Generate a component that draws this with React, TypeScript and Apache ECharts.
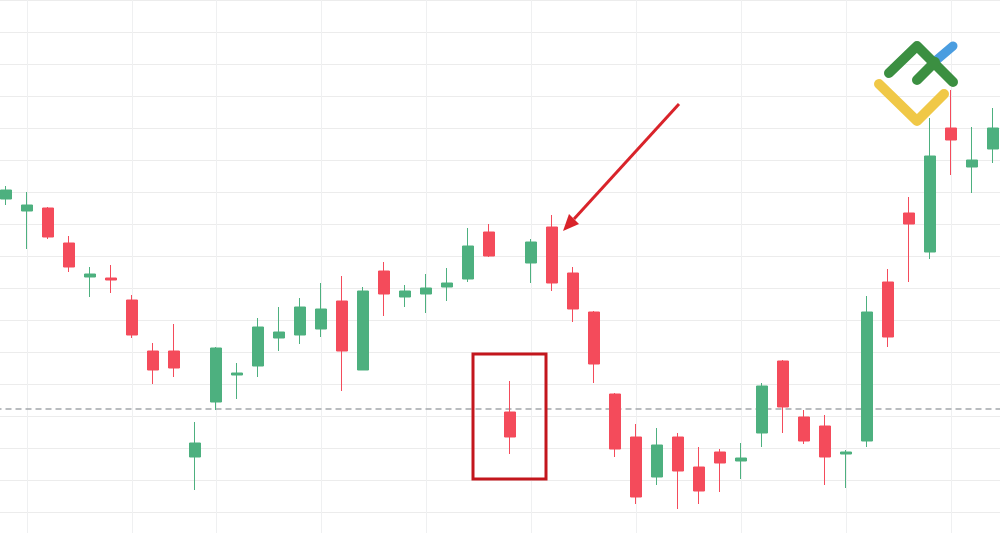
import React, { useEffect, useRef } from "react";
import * as echarts from "echarts";

// Candle values (price units, one grid step = 32)
const opens = [345, 333, 336, 301, 267, 266, 244, 193, 193, 87, 142, 169, 178, 206, 209, 215, 243, 174, 273, 247, 250, 257, 265, 312, 132, 281, 317, 271, 232, 150, 107, 67, 107, 77, 92, 83, 111, 183, 127, 118, 90, 103, 262, 331, 292, 416, 377, 395];
const closes = [354, 339, 307, 277, 270, 264, 209, 174, 176, 101, 196, 171, 217, 212, 237, 235, 193, 253, 250, 253, 256, 261, 298, 288, 107, 302, 261, 235, 180, 95, 47, 99, 73, 53, 81, 86, 158, 137, 103, 87, 92, 232, 207, 320, 388, 404, 384, 416];
const lows = [339, 295, 305, 272, 247, 251, 206, 160, 167, 54, 134, 145, 167, 193, 200, 207, 153, 174, 228, 237, 231, 243, 262, 287, 90, 261, 253, 222, 161, 87, 40, 59, 35, 40, 52, 65, 97, 111, 100, 59, 56, 97, 197, 262, 285, 369, 351, 381];
const highs = [358, 352, 337, 308, 277, 279, 249, 201, 220, 122, 197, 181, 226, 237, 246, 261, 268, 257, 282, 259, 270, 276, 316, 320, 163, 305, 329, 277, 233, 151, 120, 116, 111, 97, 95, 101, 161, 184, 134, 129, 94, 248, 275, 347, 426, 454, 417, 436];
const days = opens.map((_, i) => String(i + 1));
// Indices of candles carrying vertical grid lines
const gridLineIdx = [1, 6, 10, 15, 20, 25, 30, 35, 40, 45];
// Dashed reference level
const refLevel = 135;

const UP = "#4DB07F";
const DOWN = "#F44B5B";
const OX = 10; // chart canvas offset (extends past the left page edge)

export default function App() {
  const ref = useRef<HTMLDivElement>(null);
  useEffect(() => {
    if (!ref.current) return;
    const chart = echarts.init(ref.current, undefined, { renderer: "svg" });
    const data = opens.map((o, i) => [o, closes[i], lows[i], highs[i]]);
    const X = (x: number) => x + OX;
    chart.setOption({
      animation: false,
      backgroundColor: "#ffffff",
      grid: [
        { left: 5.5, right: 6.5, top: 0, bottom: 0, show: false },
        { left: 16, right: 17, top: 0, bottom: 0, show: false },
      ],
      xAxis: [
        {
          type: "category",
          gridIndex: 0,
          data: days,
          boundaryGap: true,
          axisLine: { show: false },
          axisTick: { show: false },
          axisLabel: { show: false },
          splitLine: { show: false },
        },
        {
          type: "category",
          gridIndex: 1,
          data: days,
          boundaryGap: false,
          axisLine: { show: false },
          axisTick: { show: false },
          axisLabel: { show: false },
          splitLine: {
            show: true,
            interval: (idx: number) => gridLineIdx.includes(idx),
            lineStyle: { color: "#eff0f1", width: 1 },
          },
        },
      ],
      yAxis: [
        {
          type: "value",
          gridIndex: 0,
          min: 0,
          max: 544,
          interval: 32,
          axisLine: { show: false },
          axisTick: { show: false },
          axisLabel: { show: false },
          splitLine: { show: true, lineStyle: { color: "#ececec", width: 1 } },
        },
        { type: "value", gridIndex: 1, show: false, min: 0, max: 544 },
      ],
      series: [
        {
          type: "candlestick",
          xAxisIndex: 0,
          yAxisIndex: 0,
          data,
          barWidth: 11,
          z: 3,
          itemStyle: {
            color: UP,
            color0: DOWN,
            borderColor: UP,
            borderColor0: DOWN,
            borderWidth: 1,
          },
          markLine: {
            silent: true,
            symbol: ["none", "none"],
            label: { show: false },
            z: 1,
            lineStyle: { color: "#a3a6aa", type: [6, 4], width: 1.5 },
            data: [{ yAxis: refLevel }],
          },
        },
      ],
      graphic: [
        // highlight box
        {
          type: "rect",
          z: 100,
          shape: { x: X(473), y: 354, width: 73, height: 125 },
          style: { fill: "none", stroke: "#c3161d", lineWidth: 3 },
        },
        // arrow
        {
          type: "line",
          z: 100,
          shape: { x1: X(679), y1: 104, x2: X(574), y2: 219 },
          style: { stroke: "#d9232a", lineWidth: 3 },
        },
        {
          type: "polygon",
          z: 100,
          shape: { points: [[X(563), 231], [X(579), 224], [X(569), 214]] },
          style: { fill: "#d9232a" },
        },
        // logo
        {
          type: "polyline",
          z: 100,
          shape: { points: [[X(879), 84], [X(917), 121], [X(944), 94]] },
          style: { stroke: "#f0c847", lineWidth: 10, lineCap: "round", lineJoin: "round", fill: "none" },
        },
        {
          type: "line",
          z: 100,
          shape: { x1: X(933), y1: 63, x2: X(953), y2: 46 },
          style: { stroke: "#4a9de0", lineWidth: 9, lineCap: "round" },
        },
        {
          type: "polyline",
          z: 101,
          shape: { points: [[X(889), 73], [X(917), 46], [X(953), 82]] },
          style: { stroke: "#3b8f41", lineWidth: 10, lineCap: "round", lineJoin: "round", fill: "none" },
        },
        {
          type: "line",
          z: 101,
          shape: { x1: X(917), y1: 80, x2: X(935), y2: 62 },
          style: { stroke: "#3b8f41", lineWidth: 10, lineCap: "round" },
        },
      ],
    });
    return () => chart.dispose();
  }, []);
  return (
    <div
      style={{ position: "fixed", left: 0, top: 0, width: 1000, height: 533, overflow: "hidden", background: "#fff" }}
    >
      <div ref={ref} style={{ position: "absolute", left: -OX, top: 0, width: 1000 + 2 * OX, height: 544 }} />
    </div>
  );
}
